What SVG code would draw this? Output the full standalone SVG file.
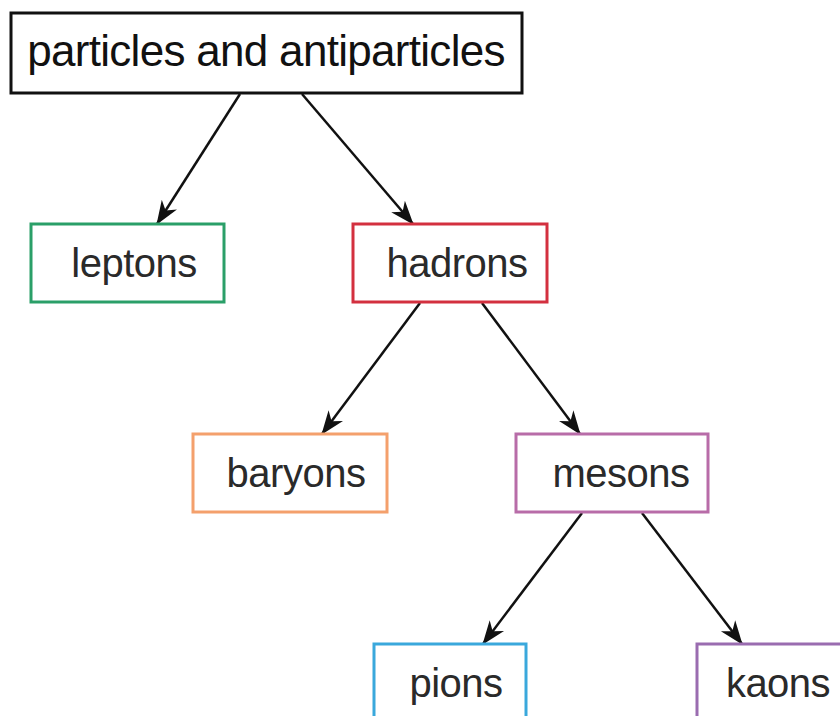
<svg xmlns="http://www.w3.org/2000/svg" width="840" height="716" viewBox="0 0 840 716">
<style>
.box{fill:#fff;stroke-width:3}
.lbl{font-family:"Liberation Sans",Arial,sans-serif;font-size:40px;fill:#2a2a2a;text-anchor:middle;letter-spacing:-0.5px}
.top{font-size:44px;fill:#111;letter-spacing:-0.7px}
.conn{stroke:#111;stroke-width:2.5;fill:none;marker-end:url(#ah)}
</style>
<defs>
<marker id="ah" viewBox="0 0 24 20" refX="23" refY="10" markerWidth="24" markerHeight="20" markerUnits="userSpaceOnUse" orient="auto">
<path d="M0,1 L24,10 L0,19 L7,10 Z" fill="#111"/>
</marker>
</defs>
<rect width="840" height="716" fill="#fff"/>
<g id="connectors">
<line class="conn" x1="240" y1="94" x2="157" y2="224"/>
<line class="conn" x1="302" y1="94" x2="413" y2="224"/>
<line class="conn" x1="420" y1="303" x2="322" y2="434"/>
<line class="conn" x1="482" y1="303" x2="580" y2="434"/>
<line class="conn" x1="582" y1="513" x2="483" y2="644"/>
<line class="conn" x1="642" y1="513" x2="742" y2="644"/>
</g>
<g id="particles">
<rect class="box" x="11" y="13" width="511" height="80" stroke="#111" stroke-width="3.5"/>
<text class="lbl top" x="266" y="66">particles and antiparticles</text>
</g>
<g id="leptons">
<rect class="box" x="31" y="224" width="193" height="78" stroke="#2a9f68"/>
<text class="lbl" x="134" y="277">leptons</text>
</g>
<g id="hadrons">
<rect class="box" x="353" y="224" width="194" height="78" stroke="#d3303f"/>
<text class="lbl" x="457" y="277">hadrons</text>
</g>
<g id="baryons">
<rect class="box" x="193" y="434" width="194" height="78" stroke="#f4a06c"/>
<text class="lbl" x="296" y="487">baryons</text>
</g>
<g id="mesons">
<rect class="box" x="516" y="434" width="192" height="78" stroke="#b86ca8"/>
<text class="lbl" x="621" y="487">mesons</text>
</g>
<g id="pions">
<rect class="box" x="374" y="644" width="152" height="90" stroke="#3aa8dc"/>
<text class="lbl" x="456" y="697">pions</text>
</g>
<g id="kaons">
<rect class="box" x="697" y="644" width="170" height="90" stroke="#9a6cb0"/>
<text class="lbl" x="778" y="697">kaons</text>
</g>
</svg>
